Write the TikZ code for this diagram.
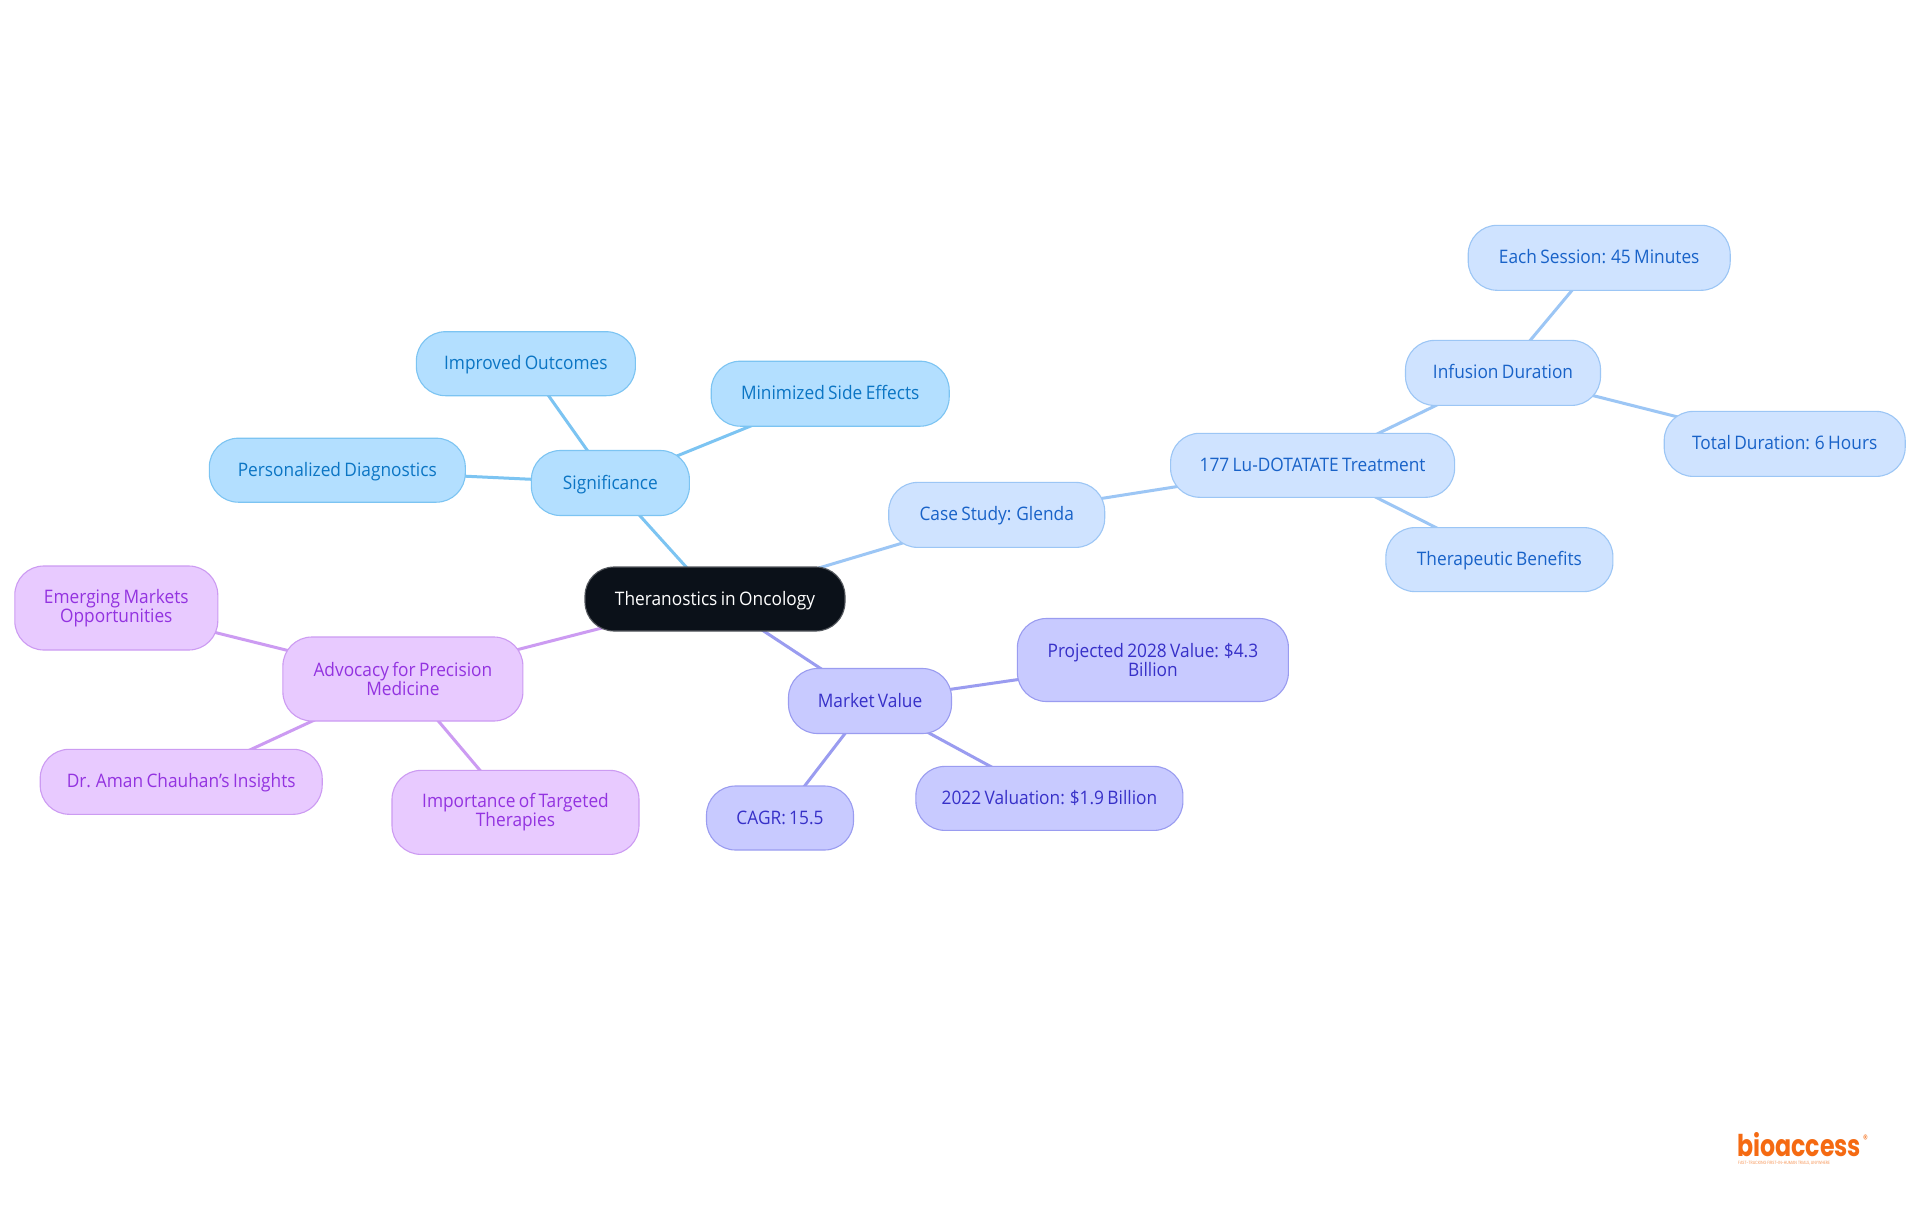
\documentclass[tikz,border=0pt]{standalone}
\usepackage{fontspec}
\setmainfont{Open Sans}[FakeStretch=0.93,WordSpace=0.75]
\newfontfamily\logofont{Poppins}[FakeStretch=0.79]
\usetikzlibrary{backgrounds}
\definecolor{rootfill}{HTML}{0B1119}
\definecolor{rootline}{HTML}{55595F}
\definecolor{skyfill}{HTML}{B3DFFF}
\definecolor{skyline}{HTML}{7CC4F2}
\definecolor{skytext}{HTML}{0B75C4}
\definecolor{palefill}{HTML}{CFE3FF}
\definecolor{paleline}{HTML}{9CC6F5}
\definecolor{paletext}{HTML}{1862C8}
\definecolor{indfill}{HTML}{C8CAFF}
\definecolor{indline}{HTML}{9A9CF0}
\definecolor{indtext}{HTML}{3730C8}
\definecolor{purfill}{HTML}{E8CAFF}
\definecolor{purline}{HTML}{CC9BF2}
\definecolor{purtext}{HTML}{9333E0}
\definecolor{logoorange}{HTML}{F56A12}
\tikzset{
  mapbox/.style n args={2}{rectangle, rounded corners=29pt, align=center, inner sep=0pt, line width=1.1pt,
     minimum width=#1, minimum height=#2, font=\fontsize{18.6}{19.2}\selectfont},
  oneline/.style={text height=16pt, text depth=4pt},
  rootbox/.style={fill=rootfill, draw=rootline, text=white},
  skybox/.style={fill=skyfill, draw=skyline, text=skytext},
  palebox/.style={fill=palefill, draw=paleline, text=paletext},
  indbox/.style={fill=indfill, draw=indline, text=indtext},
  purbox/.style={fill=purfill, draw=purline, text=purtext},
  skyedge/.style={draw=skyline, line width=3pt},
  paleedge/.style={draw=paleline, line width=3pt},
  indedge/.style={draw=indline, line width=3pt},
  puredge/.style={draw=purline, line width=3pt},
}
\begin{document}
\begin{tikzpicture}[x=1pt,y=-1pt]
\useasboundingbox (0,0) rectangle (1920,1215);
\node[mapbox={260pt}{64pt},oneline,rootbox] (root) at (715,599) {Theranostics in Oncology};
\node[mapbox={158pt}{65pt},oneline,skybox] (sig) at (610.4,483) {Significance};
\node[mapbox={219pt}{64pt},oneline,skybox] (imp) at (525.9,363.7) {Improved Outcomes};
\node[mapbox={238pt}{65pt},oneline,skybox] (min) at (830.2,393.7) {Minimized Side Effects};
\node[mapbox={256pt}{64pt},oneline,skybox] (per) at (337.3,470.2) {Personalized Diagnostics};
\node[mapbox={216pt}{65pt},oneline,palebox] (case) at (996.7,514.9) {Case Study: Glenda};
\node[mapbox={284pt}{64pt},oneline,palebox] (lu) at (1312.6,465.3) {177 Lu-DOTATATE Treatment};
\node[mapbox={195pt}{65pt},oneline,palebox] (inf) at (1503,372.9) {Infusion Duration};
\node[mapbox={262pt}{65pt},oneline,palebox] (each) at (1599.2,257.8) {Each Session: 45 Minutes};
\node[mapbox={241pt}{65pt},oneline,palebox] (tot) at (1784.7,443.9) {Total Duration: 6 Hours};
\node[mapbox={227pt}{64pt},oneline,palebox] (ther) at (1499.4,559.6) {Therapeutic Benefits};
\node[mapbox={163pt}{65pt},oneline,indbox] (mkt) at (870,701) {Market Value};
\node[mapbox={271pt}{83pt},indbox] (proj) at (1152.9,660) {Projected 2028 Value: \$4.3\\Billion};
\node[mapbox={267pt}{64pt},oneline,indbox] (val) at (1049.4,798.4) {2022 Valuation: \$1.9 Billion};
\node[mapbox={147pt}{64pt},oneline,indbox] (cagr) at (780,818) {CAGR: 15.5};
\node[mapbox={240pt}{84pt},purbox] (adv) at (402.9,679) {Advocacy for Precision\\Medicine};
\node[mapbox={203pt}{84pt},purbox] (eme) at (116.3,608) {Emerging Markets\\Opportunities};
\node[mapbox={282pt}{65pt},oneline,purbox] (dr) at (181.2,781.8) {Dr. Aman Chauhan's Insights};
\node[mapbox={247pt}{84pt},purbox] (tar) at (515.5,812.4) {Importance of Targeted\\Therapies};
\begin{scope}[on background layer]
\fill[white] (0,0) rectangle (1920,1215);
\draw[skyedge] (root.center) -- (sig.center);
\draw[skyedge] (sig.center) -- (imp.center);
\draw[skyedge] (sig.center) -- (min.center);
\draw[skyedge] (sig.center) -- (per.center);
\draw[paleedge] (root.center) -- (case.center);
\draw[paleedge] (case.center) -- (lu.center);
\draw[paleedge] (lu.center) -- (inf.center);
\draw[paleedge] (lu.center) -- (ther.center);
\draw[paleedge] (inf.center) -- (each.center);
\draw[paleedge] (inf.center) -- (tot.center);
\draw[indedge] (root.center) -- (mkt.center);
\draw[indedge] (mkt.center) -- (proj.center);
\draw[indedge] (mkt.center) -- (val.center);
\draw[indedge] (mkt.center) -- (cagr.center);
\draw[puredge] (root.center) -- (adv.center);
\draw[puredge] (adv.center) -- (eme.center);
\draw[puredge] (adv.center) -- (dr.center);
\draw[puredge] (adv.center) -- (tar.center);
\end{scope}
\node[anchor=base west, inner sep=0pt, text=logoorange, font={\logofont\bfseries\fontsize{30}{30}\selectfont}] (logo) at (1737,1156) {bioaccess};
\node[anchor=center, inner sep=0pt, text=logoorange, font={\logofont\fontsize{12}{12}\selectfont}] (reg) at (1865.5,1139.5) {®};
\node[anchor=base west, inner sep=0pt, text=logoorange!70, font={\logofont\fontsize{4.6}{5}\selectfont}] (tag) at (1738,1164) {FAST-TRACKING FIRST-IN-HUMAN TRIALS, ANYWHERE};
\end{tikzpicture}
\end{document}
